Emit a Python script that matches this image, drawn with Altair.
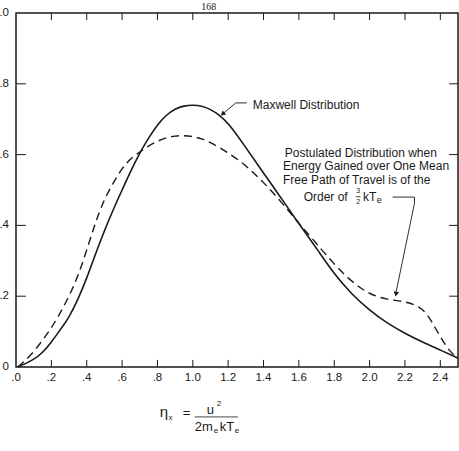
import altair as alt
import pandas as pd

# ---- data ----
maxwell_x = [0.01, 0.1, 0.15, 0.2, 0.25, 0.3, 0.35, 0.4, 0.45, 0.5, 0.55, 0.6, 0.65, 0.7,
             0.75, 0.8, 0.85, 0.9, 0.95, 1.0, 1.05, 1.1, 1.15, 1.2, 1.3, 1.4, 1.5, 1.6,
             1.65, 1.7, 1.8, 1.9, 2.0, 2.1, 2.2, 2.3, 2.4, 2.5]
maxwell_y = [0.0, 0.02, 0.04, 0.07, 0.105, 0.14, 0.19, 0.25, 0.32, 0.385, 0.445, 0.50,
             0.555, 0.605, 0.647, 0.685, 0.712, 0.73, 0.738, 0.74, 0.738, 0.728, 0.712,
             0.69, 0.62, 0.548, 0.477, 0.405, 0.37, 0.335, 0.262, 0.205, 0.16, 0.123,
             0.095, 0.07, 0.048, 0.025]

postulated_x = [0.01, 0.08, 0.15, 0.2, 0.25, 0.3, 0.35, 0.4, 0.45, 0.5, 0.55, 0.6, 0.65,
                0.7, 0.75, 0.8, 0.85, 0.9, 0.95, 1.0, 1.05, 1.1, 1.2, 1.3, 1.4, 1.5, 1.6,
                1.65, 1.7, 1.8, 1.9, 2.0, 2.1, 2.2, 2.3, 2.35, 2.4, 2.45, 2.5]
postulated_y = [0.0, 0.03, 0.075, 0.11, 0.152, 0.2, 0.255, 0.33, 0.41, 0.475, 0.52, 0.562,
                0.59, 0.607, 0.625, 0.638, 0.648, 0.653, 0.654, 0.651, 0.645, 0.635, 0.605,
                0.57, 0.522, 0.467, 0.405, 0.378, 0.348, 0.29, 0.24, 0.205, 0.19, 0.186,
                0.168, 0.13, 0.085, 0.045, 0.025]

x_tick_values = [0.0, 0.2, 0.4, 0.6, 0.8, 1.0, 1.2, 1.4, 1.6, 1.8, 2.0, 2.2, 2.4]
x_tick_labels = [".0", ".2", ".4", ".6", ".8", "1.0", "1.2", "1.4", "1.6", "1.8", "2.0", "2.2", "2.4"]
y_tick_values = [0.0, 0.2, 0.4, 0.6, 0.8, 1.0]
y_tick_labels = ["0", ".2", ".4", ".6", ".8", "1.0"]

INK = "#1a1a1a"
FONT = "Liberation Sans"

xs = alt.Scale(domain=[0, 2.5], nice=False, zero=False)
ys = alt.Scale(domain=[0, 1], nice=False, zero=False)

df_m = pd.DataFrame({"x": maxwell_x, "y": maxwell_y})
df_p = pd.DataFrame({"x": postulated_x, "y": postulated_y})

X = alt.X("x:Q", scale=xs, axis=None)
Y = alt.Y("y:Q", scale=ys, axis=None)

solid = alt.Chart(df_m).mark_line(color=INK, strokeWidth=1.6, interpolate="basis").encode(x=X, y=Y)
dashed = alt.Chart(df_p).mark_line(color=INK, strokeWidth=1.4, strokeDash=[8, 5],
                                   interpolate="basis").encode(x="x:Q", y="y:Q")

# inside ticks on all four sides
inner_x = [v for v in x_tick_values if v > 0]
inner_y = [v for v in y_tick_values if 0 < v < 1]
ticks_bottom = pd.DataFrame({"x": inner_x, "x2": inner_x, "y": [0.0] * len(inner_x), "y2": [0.02] * len(inner_x)})
ticks_top = pd.DataFrame({"x": inner_x, "x2": inner_x, "y": [1.0] * len(inner_x), "y2": [0.98] * len(inner_x)})
ticks_left = pd.DataFrame({"x": [0.0] * len(inner_y), "x2": [0.056] * len(inner_y), "y": inner_y, "y2": inner_y})
ticks_right = pd.DataFrame({"x": [2.5] * len(inner_y), "x2": [2.45] * len(inner_y), "y": inner_y, "y2": inner_y})
ticks = pd.concat([ticks_bottom, ticks_top, ticks_left, ticks_right], ignore_index=True)
tick_layer = alt.Chart(ticks).mark_rule(color=INK, strokeWidth=1).encode(
    x="x:Q", x2="x2:Q", y="y:Q", y2="y2:Q")

# tick labels (placed through the same scales)
xlab = alt.Chart(pd.DataFrame({"v": x_tick_values, "t": x_tick_labels})).mark_text(
    align="center", baseline="middle", font=FONT, fontSize=11.5, color=INK, dy=11
).encode(x="v:Q", y=alt.datum(0), text="t:N")
ylab = alt.Chart(pd.DataFrame({"v": y_tick_values, "t": y_tick_labels})).mark_text(
    align="right", baseline="middle", font=FONT, fontSize=11.5, color=INK, dx=-7
).encode(x=alt.datum(0), y="v:Q", text="t:N")

# leader lines
leaders = pd.DataFrame({
    "x":  [1.305, 1.243, 2.13, 2.254, 2.254],
    "x2": [1.243, 1.172, 2.254, 2.254, 2.150],
    "y":  [0.746, 0.746, 0.48, 0.48, 0.463],
    "y2": [0.746, 0.716, 0.48, 0.463, 0.212],
})
leader_layer = alt.Chart(leaders).mark_rule(color=INK, strokeWidth=0.9).encode(
    x="x:Q", x2="x2:Q", y="y:Q", y2="y2:Q")

arrows = pd.DataFrame({"x": [1.172, 2.150], "y": [0.716, 0.208], "a": [229, 191]})
arrow_layer = alt.Chart(arrows).mark_point(shape="triangle", filled=True, color=INK,
                                           size=30, opacity=1).encode(
    x="x:Q", y="y:Q", angle=alt.Angle("a:Q", scale=None))

def txt(df, size, align="left", font=FONT):
    return alt.Chart(pd.DataFrame(df)).mark_text(
        align=align, baseline="middle", font=font, fontSize=size, color=INK
    ).encode(x="x:Q", y="y:Q", text="t:N")

ann_main = txt({"t": ["Maxwell Distribution",
                      "Postulated Distribution when",
                      "Energy Gained over One Mean",
                      "Free Path of Travel is of the",
                      "Order of"],
                "x": [1.339, 1.52, 1.51, 1.51, 1.627],
                "y": [0.740, 0.605, 0.567, 0.528, 0.48]}, 12)
ann_frac = txt({"t": ["3", "2"], "x": [1.935, 1.935], "y": [0.496, 0.466]}, 7, align="center")
frac_rule = pd.DataFrame({"x": [1.922, 1.011], "x2": [1.948, 1.255], "y": [0.481, -0.141], "y2": [0.481, -0.141]})
frac_layer = alt.Chart(frac_rule).mark_rule(color=INK, strokeWidth=0.8).encode(
    x="x:Q", x2="x2:Q", y="y:Q", y2="y2:Q")
ann_kt = txt({"t": ["kT"], "x": [1.962], "y": [0.48]}, 12)
ann_e = txt({"t": ["e"], "x": [2.04], "y": [0.471]}, 9)

# x-axis formula
f_eta = txt({"t": ["η"], "x": [0.8136], "y": [-0.128]}, 15)
f_big = txt({"t": ["=", "u", "2m", "kT"],
             "x": [0.943, 1.079, 1.011, 1.1525],
             "y": [-0.130, -0.121, -0.1686, -0.1686]}, 13)
f_small = txt({"t": ["x", "2", "e", "e"],
               "x": [0.862, 1.136, 1.119, 1.237],
               "y": [-0.145, -0.1045, -0.182, -0.182]}, 8)
page = txt({"t": ["168"], "x": [1.09], "y": [1.018]}, 10, align="center", font="Liberation Serif")

chart = alt.layer(
    solid, dashed, tick_layer, xlab, ylab, leader_layer, arrow_layer, ann_main, ann_frac,
    frac_layer, ann_kt, ann_e, f_eta, f_big, f_small, page
).properties(
    width=442, height=354,
    autosize=alt.AutoSizeParams(type="none"),
    padding={"left": 16, "top": 13, "right": 1, "bottom": 84},
    background="white",
).configure_view(stroke=INK, strokeWidth=1.5)

chart.save("out.html", embed_options={"renderer": "svg", "actions": False})
